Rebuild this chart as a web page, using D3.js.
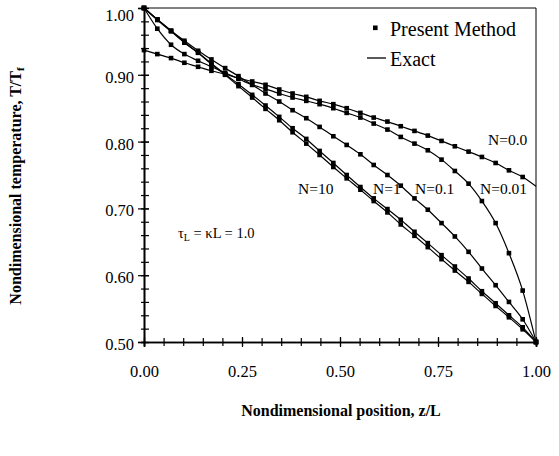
<!DOCTYPE html>
<html>
<head>
<meta charset="utf-8">
<script src="https://cdn.jsdelivr.net/npm/d3@7"></script>
<style>
  body { margin: 0; background: #fff; }
  text { font-family: "Liberation Serif", "Times New Roman", serif; fill: #000; }
</style>
</head>
<body>
<svg></svg>
<script>
var width = 559;
var height = 456;

// positions z/L of the computed points
var positions = [0, 0.034, 0.069, 0.103, 0.138, 0.172, 0.207, 0.241, 0.276, 0.310,
                 0.345, 0.379, 0.414, 0.448, 0.483, 0.517, 0.552, 0.586, 0.621, 0.655,
                 0.690, 0.724, 0.759, 0.793, 0.828, 0.862, 0.897, 0.931, 0.966, 1.000];

// T/Tf for each conduction-radiation parameter N
var tempN10  = [1.000, 0.983, 0.966, 0.949, 0.933, 0.916, 0.900, 0.883, 0.866, 0.849,
                0.832, 0.814, 0.797, 0.780, 0.762, 0.745, 0.728, 0.711, 0.694, 0.676,
                0.659, 0.642, 0.624, 0.607, 0.590, 0.572, 0.554, 0.537, 0.519, 0.500];
var tempN1   = [1.000, 0.982, 0.965, 0.948, 0.933, 0.917, 0.901, 0.886, 0.870, 0.854,
                0.837, 0.820, 0.804, 0.786, 0.768, 0.750, 0.732, 0.715, 0.699, 0.683,
                0.665, 0.648, 0.630, 0.613, 0.595, 0.576, 0.558, 0.540, 0.522, 0.500];
var tempN01  = [1.000, 0.983, 0.966, 0.951, 0.936, 0.923, 0.910, 0.898, 0.885, 0.872,
                0.860, 0.847, 0.835, 0.822, 0.808, 0.795, 0.781, 0.765, 0.750, 0.734,
                0.715, 0.698, 0.678, 0.658, 0.635, 0.610, 0.585, 0.560, 0.534, 0.500];
var tempN001 = [1.000, 0.969, 0.945, 0.931, 0.921, 0.912, 0.903, 0.894, 0.885, 0.879,
                0.872, 0.866, 0.861, 0.856, 0.850, 0.843, 0.836, 0.827, 0.818, 0.807,
                0.797, 0.787, 0.773, 0.756, 0.737, 0.711, 0.678, 0.633, 0.577, 0.500];
var tempN0   = [0.937, 0.931, 0.925, 0.918, 0.912, 0.906, 0.901, 0.895, 0.890, 0.885,
                0.878, 0.872, 0.867, 0.861, 0.856, 0.850, 0.843, 0.836, 0.830, 0.823,
                0.816, 0.809, 0.801, 0.793, 0.785, 0.777, 0.768, 0.757, 0.747, 0.733];

var seriesNames = ['N=10', 'N=1', 'N=0.1', 'N=0.01', 'N=0.0'];
var seriesTemps = [tempN10, tempN1, tempN01, tempN001, tempN0];
// how many of the points carry a "present method" marker (N=0.0 has none at the wall)
var markerCounts = [30, 30, 30, 30, 29];

var xMajor = [0, 0.25, 0.5, 0.75, 1];
var yMajor = [0.5, 0.6, 0.7, 0.8, 0.9, 1.0];

var x = d3.scaleLinear().domain([0, 1]).range([144, 536]);
var y = d3.scaleLinear().domain([0.5, 1]).range([342, 8]);

var svg = d3.select('svg')
            .attr('width', width)
            .attr('height', height);

// frame (top and right)
svg.append('path')
    .attr('d', `M${x(0)},${y(1)}H${x(1)}V${y(0.5)}`)
    .attr('fill', 'none')
    .attr('stroke', '#000')
    .attr('stroke-width', 1);

//Axes - minor ticks first, then major with labels
var yMinor = svg.append('g')
    .attr('transform', `translate(${x(0)},0)`)
    .call(d3.axisLeft(y).tickValues(d3.range(0.5, 1.001, 0.02)).tickFormat('').tickSize(3));
var yAxis = svg.append('g')
    .attr('transform', `translate(${x(0)},0)`)
    .call(d3.axisLeft(y).tickValues(yMajor).tickFormat(d3.format('.2f')).tickSize(6).tickPadding(4));
yMinor.selectAll('.tick line').attr('x1', 5);
yAxis.selectAll('.tick line').attr('x1', 5);
yAxis.selectAll('.tick text')
    .attr('dy', d => d === 1 ? '0.75em' : '0.45em');

var xMinor = svg.append('g')
    .attr('transform', `translate(0,${y(0.5)})`)
    .call(d3.axisBottom(x).tickValues(d3.range(0, 1.001, 0.05)).tickFormat('').tickSize(4));
var xAxis = svg.append('g')
    .attr('transform', `translate(0,${y(0.5)})`)
    .call(d3.axisBottom(x).tickValues(xMajor).tickFormat(d3.format('.2f')).tickSize(5).tickPadding(18));
xMinor.selectAll('.tick line').attr('y1', -4);
xAxis.selectAll('.tick line').attr('y1', -5);

[yMinor, yAxis, xMinor, xAxis].forEach(g => {
    g.select('.domain').attr('stroke-width', 1.6);
    g.selectAll('.tick line').attr('stroke-width', 1.2);
    g.selectAll('.tick text')
        .style('font-family', '"Liberation Serif", serif')
        .style('font-size', '16.5px');
});

// Exact solutions
var line = d3.line()
    .x((d, i) => x(positions[i]))
    .y(d => y(d))
    .curve(d3.curveMonotoneX);

svg.append('g')
    .selectAll('path')
    .data(seriesTemps)
    .enter()
    .append('path')
        .attr('d', line)
        .attr('fill', 'none')
        .attr('stroke', '#000')
        .attr('stroke-width', 1.2);

// Present method points
var marker = 4.6;
svg.append('g')
    .selectAll('g')
    .data(seriesTemps)
    .enter()
    .append('g')
    .selectAll('rect')
    .data((d, k) => d.slice(0, markerCounts[k]))
    .enter()
    .append('rect')
        .attr('x', (d, i) => x(positions[i]) - marker / 2)
        .attr('y', d => y(d) - marker / 2)
        .attr('width', marker)
        .attr('height', marker)
        .attr('fill', '#000');

// curve labels
var labelPos = [[298, 194], [373, 194], [415, 194], [480, 194], [488, 145]];
svg.append('g')
    .selectAll('text')
    .data(seriesNames)
    .enter()
    .append('text')
        .attr('x', (d, i) => labelPos[i][0])
        .attr('y', (d, i) => labelPos[i][1])
        .style('font-size', '15.5px')
        .text(d => d);

// parameter note
var note = svg.append('text')
    .attr('x', 178)
    .attr('y', 238)
    .style('font-size', '14.5px');
note.append('tspan').text('\u03C4');
note.append('tspan').attr('dy', 3).style('font-size', '10px').text('L');
note.append('tspan').attr('dy', -3).text(' = \u03BAL = 1.0');

// legend
var legend = svg.append('g');
legend.append('rect')
    .attr('x', 373).attr('y', 25.5)
    .attr('width', marker).attr('height', marker)
    .attr('fill', '#000');
legend.append('text')
    .attr('x', 390).attr('y', 36)
    .style('font-size', '20px')
    .text('Present Method');
legend.append('line')
    .attr('x1', 367).attr('x2', 386)
    .attr('y1', 58).attr('y2', 58)
    .attr('stroke', '#000')
    .attr('stroke-width', 1.3);
legend.append('text')
    .attr('x', 390).attr('y', 66)
    .style('font-size', '20px')
    .text('Exact');

// axis titles
svg.append('text')
    .attr('x', 341)
    .attr('y', 416)
    .attr('text-anchor', 'middle')
    .style('font-size', '16px')
    .style('font-weight', 'bold')
    .text('Nondimensional position, z/L');

var yTitle = svg.append('text')
    .attr('transform', 'translate(21,186) rotate(-90)')
    .attr('text-anchor', 'middle')
    .style('font-size', '16px')
    .style('font-weight', 'bold');
yTitle.append('tspan').text('Nondimensional temperature, T/T');
yTitle.append('tspan').attr('dy', 3).style('font-size', '11px').text('f');
</script>
</body>
</html>
